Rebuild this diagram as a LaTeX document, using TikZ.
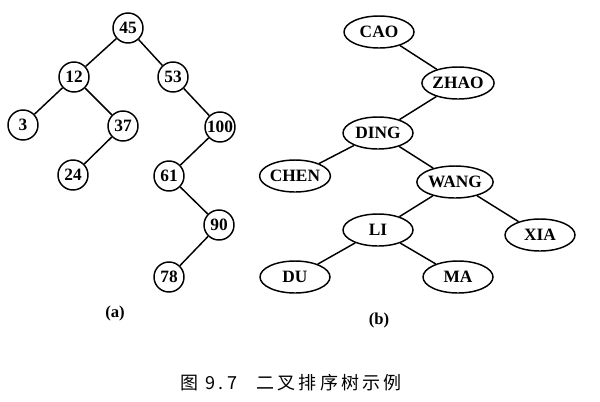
\documentclass[tikz,border=0pt]{standalone}
\usepackage{fontspec}
\setmainfont{Liberation Serif}
\newfontfamily\cjk{Noto Sans CJK SC}
\usetikzlibrary{shapes.geometric}

\begin{document}
\begin{tikzpicture}[x=0.75pt,y=-0.75pt,line width=1.1pt,
    keynode/.style={circle,draw,inner sep=0pt,minimum size=22.5pt,font=\bfseries\fontsize{13}{13}\selectfont},
    namenode/.style={ellipse,draw,inner sep=0pt,minimum width=52.5pt,minimum height=24pt,font=\bfseries\fontsize{13}{13}\selectfont},
    tagnode/.style={font=\bfseries\fontsize{12.5}{12.5}\selectfont}]
                \useasboundingbox (0,0) rectangle (600,401);
                \node[keynode] (a45) at (128,28) {45};
                \node[keynode] (a12) at (74,77) {12};
                \node[keynode] (a53) at (173,77) {53};
                \node[keynode] (a3) at (23,125) {3};
                \node[keynode] (a37) at (123,126) {37};
                \node[keynode] (a100) at (220,127) {100};
                \node[keynode] (a24) at (73,175) {24};
                \node[keynode] (a61) at (169,176) {61};
                \node[keynode] (a90) at (219,225) {90};
                \node[keynode] (a78) at (169,277) {78};
                \node[tagnode] (ta) at (115,313) {(a)};
                \draw (a45) -- (a12) (a45) -- (a53) (a12) -- (a3) (a12) -- (a37)
                    (a37) -- (a24) (a53) -- (a100) (a100) -- (a61) (a61) -- (a90) (a90) -- (a78);
                \node[namenode] (bcao) at (379,32) {CAO};
                \node[namenode] (bzhao) at (458,83) {ZHAO};
                \node[namenode] (bding) at (378,133) {DING};
                \node[namenode] (bchen) at (295,176) {CHEN};
                \node[namenode] (bwang) at (455,182) {WANG};
                \node[namenode] (bli) at (378,230) {LI};
                \node[namenode] (bxia) at (540,235) {XIA};
                \node[namenode] (bdu) at (295,277) {DU};
                \node[namenode] (bma) at (458,277) {MA};
                \node[tagnode] (tb) at (379,320) {(b)};
                \draw (bcao) -- (bzhao) (bzhao) -- (bding) (bding) -- (bchen) (bding) -- (bwang)
                    (bwang) -- (bli) (bwang) -- (bxia) (bli) -- (bdu) (bli) -- (bma);
                \node (cap) at (291,383) {\cjk\fontsize{13.5}{13.5}\selectfont\addfontfeature{LetterSpace=17}图 9.7\hspace{1.1em}二叉排序树示例};
            \end{tikzpicture}
\end{document}
